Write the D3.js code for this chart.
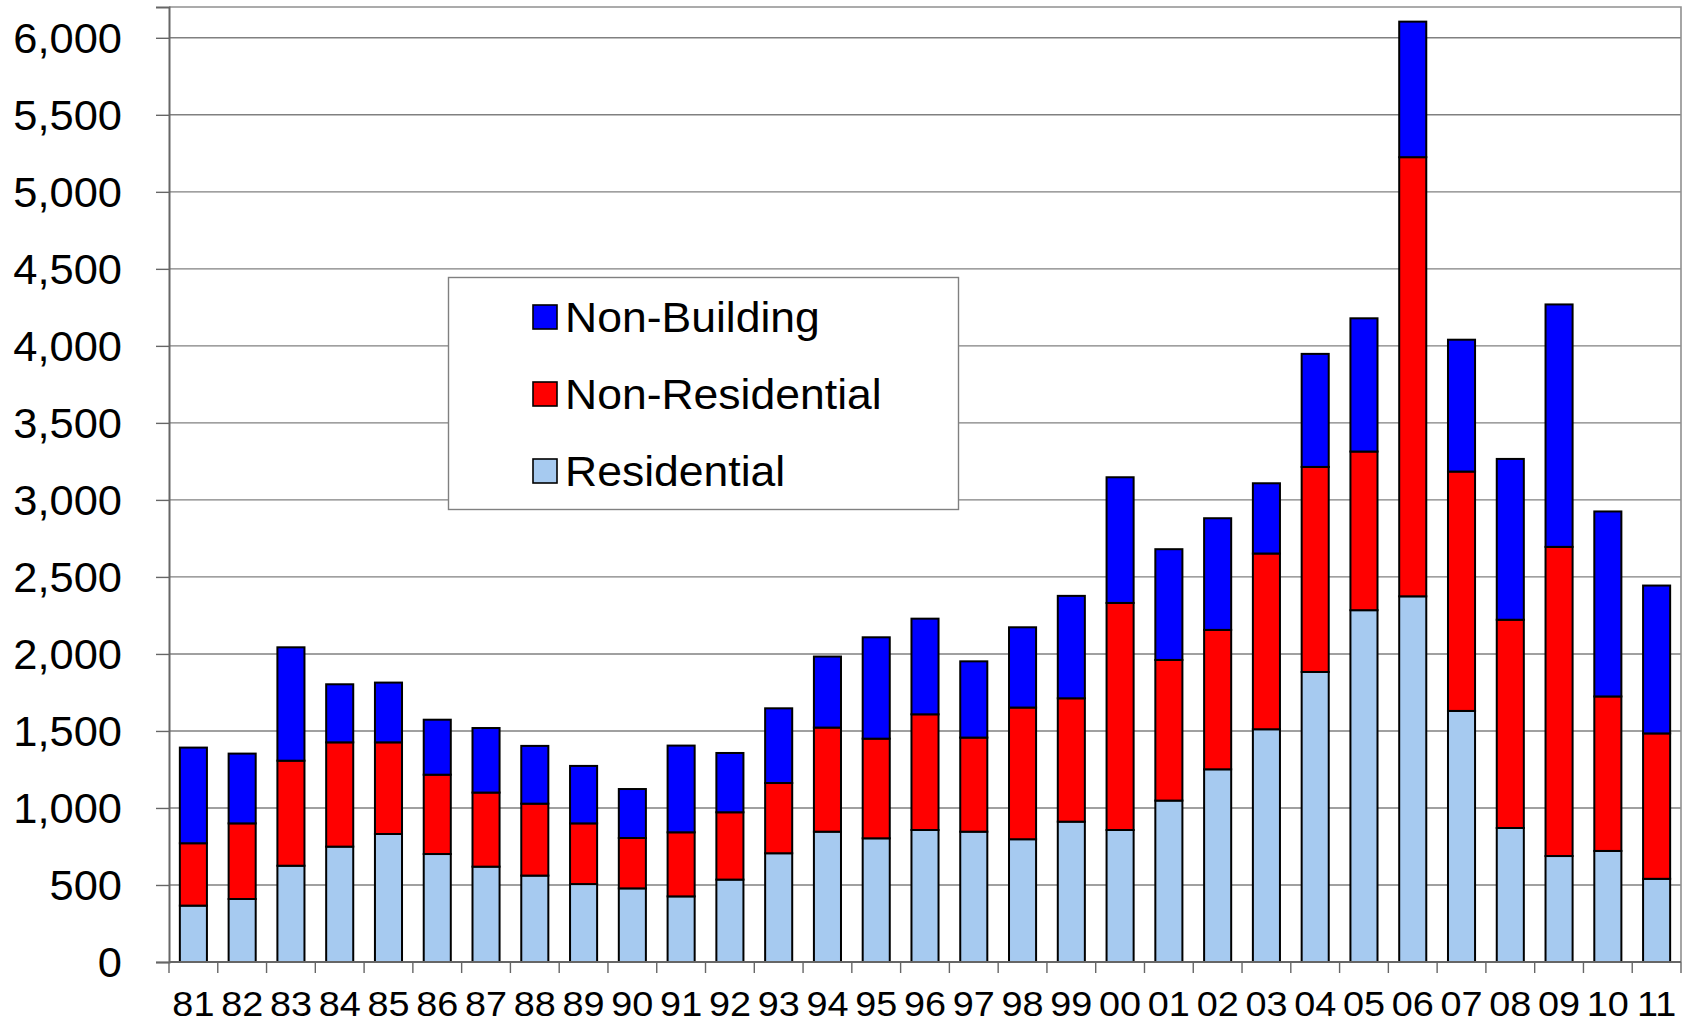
<!DOCTYPE html>
<html>
<head>
<meta charset="utf-8">
<script src="https://cdn.jsdelivr.net/npm/d3@7"></script>
<style>
  html, body { margin: 0; padding: 0; background: #ffffff; }
  svg { display: block; }
  text { font-family: "Liberation Sans", Arial, sans-serif; fill: #000; }
</style>
</head>
<body>
<svg id="chart" width="1689" height="1023"></svg>
<script>
// ---- Data ----
const years = ["81","82","83","84","85","86","87","88","89","90","91","92","93","94","95","96","97","98","99","00","01","02","03","04","05","06","07","08","09","10","11"];
const residential    = [366,409,625,749,831,701,619,561,506,478,426,535,706,846,803,857,846,797,911,857,1048,1251,1511,1883,2284,2374,1630,870,688,721,540];
const nonResidential = [405,491,682,677,595,515,481,467,394,327,416,437,456,676,647,751,611,855,801,1474,913,905,1141,1331,1030,2851,1554,1352,2007,1003,944];
const nonBuilding    = [621,453,736,377,388,357,419,375,373,318,563,385,485,461,658,621,495,521,665,816,719,725,456,734,865,880,856,1044,1574,1201,960];
const yTicks = [0,500,1000,1500,2000,2500,3000,3500,4000,4500,5000,5500,6000];
const seriesKeys   = ["residential","nonResidential","nonBuilding"];
const seriesLabels = {nonBuilding:"Non-Building", nonResidential:"Non-Residential", residential:"Residential"};
const seriesColors = {nonBuilding:"#0000FF", nonResidential:"#FF0000", residential:"#A6CAF0"};
const legendOrder  = ["nonBuilding","nonResidential","residential"];

// ---- Layout ----
const plot = {left:169, right:1681, top:7, bottom:962};
const svg = d3.select("#chart");

const rows = years.map((y,i) => ({year:y, residential:residential[i], nonResidential:nonResidential[i], nonBuilding:nonBuilding[i]}));
const stacked = d3.stack().keys(seriesKeys)(rows);

const x = d3.scaleBand().domain(years).range([plot.left, plot.right]).padding(0);
const y = d3.scaleLinear().domain([0, 6200]).range([plot.bottom, plot.top]);
const step = x.step();
const barW = step * 0.555;

// gridlines
svg.append("g").selectAll("line").data(yTicks.filter(d => d > 0)).join("line")
  .attr("x1", plot.left).attr("x2", plot.right)
  .attr("y1", d => y(d)).attr("y2", d => y(d))
  .attr("stroke", "#808080").attr("stroke-width", 1.4);

// plot border (top/right)
svg.append("path")
  .attr("d", `M${plot.left},${plot.top}H${plot.right}V${plot.bottom}`)
  .attr("fill", "none").attr("stroke", "#909090").attr("stroke-width", 1.6);

// bars
const layers = svg.append("g").selectAll("g").data(stacked).join("g")
  .attr("fill", d => seriesColors[d.key]);
layers.selectAll("rect").data(d => d).join("rect")
  .attr("x", d => x(d.data.year) + (step - barW) / 2)
  .attr("width", barW)
  .attr("y", d => y(d[1]))
  .attr("height", d => y(d[0]) - y(d[1]))
  .attr("stroke", "#000").attr("stroke-width", 2);

// y axis (line + ticks)
const yAxis = d3.axisLeft(y).tickValues(yTicks).tickSize(13).tickFormat("");
const gy = svg.append("g").attr("transform", `translate(${plot.left},0)`).call(yAxis);
gy.select(".domain").attr("stroke", "#666").attr("stroke-width", 2);
gy.selectAll(".tick line").attr("stroke", "#666").attr("stroke-width", 1.4);

// y labels
const fmt = d3.format(",");
svg.append("g").selectAll("text").data(yTicks).join("text")
  .attr("transform", d => `translate(122,${y(d) + 15}) scale(1.035,1)`)
  .attr("text-anchor", "end")
  .attr("font-size", 42)
  .text(d => fmt(d));

// x axis baseline
svg.append("line").attr("x1", plot.left).attr("x2", plot.right)
  .attr("y1", plot.bottom).attr("y2", plot.bottom)
  .attr("stroke", "#666").attr("stroke-width", 2);

// x tick marks at category boundaries
const boundaries = years.map(c => x(c)).concat([plot.right]);
svg.append("g").selectAll("line").data(boundaries).join("line")
  .attr("x1", d => d).attr("x2", d => d)
  .attr("y1", plot.bottom).attr("y2", plot.bottom + 11)
  .attr("stroke", "#666").attr("stroke-width", 1.4);

// x labels
svg.append("g").selectAll("text").data(years).join("text")
  .attr("transform", d => `translate(${x(d) + step / 2},1016) scale(1.08,1)`)
  .attr("text-anchor", "middle")
  .attr("font-size", 35)
  .text(d => d);

// legend
const lg = svg.append("g");
lg.append("rect").attr("x", 448.5).attr("y", 277.5).attr("width", 510).attr("height", 232)
  .attr("fill", "#fff").attr("stroke", "#808080").attr("stroke-width", 1.4);
const items = lg.selectAll("g.item").data(legendOrder).join("g").attr("class", "item")
  .attr("transform", (d,i) => `translate(0,${317 + i * 77})`);
items.append("rect").attr("x", 533).attr("y", -12).attr("width", 24).attr("height", 24)
  .attr("fill", d => seriesColors[d]).attr("stroke", "#000").attr("stroke-width", 1.6);
items.append("text")
  .attr("transform", "translate(565,15) scale(1.06,1)")
  .attr("font-size", 42)
  .text(d => seriesLabels[d]);
</script>
</body>
</html>
